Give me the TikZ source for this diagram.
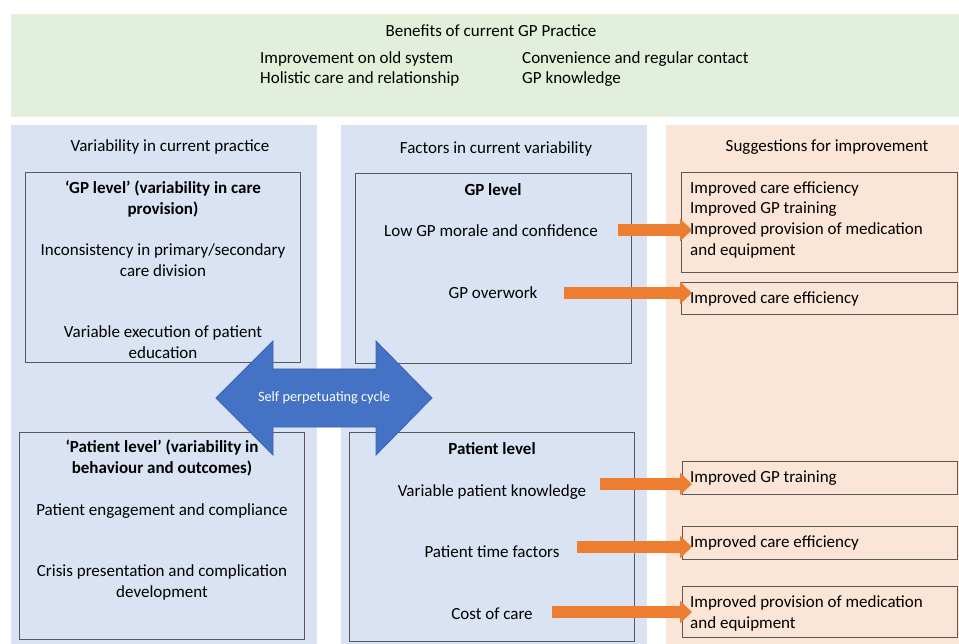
\documentclass[tikz,border=0pt]{standalone}
\usepackage{fontspec}
\setmainfont{Carlito}
\usetikzlibrary{arrows.meta,calc}
\definecolor{cgreen}{HTML}{E2EFDA}
\definecolor{cblue}{HTML}{DAE3F3}
\definecolor{corange}{HTML}{FBE5D6}
\definecolor{cborder}{HTML}{595959}
\definecolor{carrow}{HTML}{ED7D31}
\definecolor{cbig}{HTML}{4472C4}
\definecolor{cbigline}{HTML}{3A64B0}
\begin{document}
\begin{tikzpicture}[x=1pt,y=-1pt,
  ibox/.style={draw=cborder,line width=0.8pt,fill=none},
  txt/.style={inner sep=0pt,yshift=-1.5pt,font=\fontsize{17}{20.8}\selectfont,align=center,anchor=base},
  ltxt/.style={inner sep=0pt,yshift=-1.5pt,font=\fontsize{17}{20.8}\selectfont,align=left,anchor=base west},
  head/.style={inner sep=0pt,yshift=-1.5pt,font=\fontsize{17}{20}\selectfont,anchor=base},
  bold/.style={txt,font=\fontsize{17}{20.8}\selectfont\bfseries},
  oarr/.style={draw=carrow,line width=12pt,-{Triangle[length=12pt 0 0,width=22pt 0 0,fill=carrow]}}
]
\useasboundingbox (0,0) rectangle (959,644);
% panels
\fill[cgreen] (11,14) rectangle (959,117);
\fill[cblue] (11,125) rectangle (317,644);
\fill[cblue] (341,125) rectangle (647,644);
\fill[corange] (666,125) rectangle (959,644);
% top texts
\node[head] (bt) at (491,35) {Benefits of current GP Practice};
\node[ltxt,font=\fontsize{17}{20}\selectfont] (b1) at (260,82) {Improvement on old system\\Holistic care and relationship};
\node[ltxt,font=\fontsize{17}{20}\selectfont] (b2) at (522,82) {Convenience and regular contact\\GP knowledge};
% headings
\node[head] (h1) at (170,150) {Variability in current practice};
\node[head] (h2) at (496,152) {Factors in current variability};
\node[head] (h3) at (827,150) {Suggestions for improvement};
% left boxes
\node[ibox,minimum width=275pt,minimum height=190pt,anchor=north west] (lgp) at (25,172) {};
\node[bold] (lgpt) at (163,213) {‘GP level’ (variability in care\\provision)};
\node[txt] (lgp1) at (163,275) {Inconsistency in primary/secondary\\care division};
\node[txt] (lgp2) at (163,357) {Variable execution of patient\\education};
\node[ibox,minimum width=285pt,minimum height=207pt,anchor=north west] (lpt) at (19,432) {};
\node[bold] (lptt) at (162,472) {‘Patient level’ (variability in\\behaviour and outcomes)};
\node[txt] (lpt1) at (162,514) {Patient engagement and compliance};
\node[txt] (lpt2) at (162,596) {Crisis presentation and complication\\development};
% middle boxes
\node[ibox,minimum width=276pt,minimum height=190pt,anchor=north west] (mgp) at (355,173) {};
\node[bold] (mgpt) at (493,194) {GP level};
\node[txt] (mgp1) at (491,235) {Low GP morale and confidence};
\node[txt] (mgp2) at (493,297) {GP overwork};
\node[ibox,minimum width=285pt,minimum height=209pt,anchor=north west] (mpt) at (349,432) {};
\node[bold] (mptt) at (492,453) {Patient level};
\node[txt] (mpt1) at (492,495) {Variable patient knowledge};
\node[txt] (mpt2) at (492,556) {Patient time factors};
\node[txt] (mpt3) at (492,618) {Cost of care};
% right boxes
\node[ibox,minimum width=276pt,minimum height=100pt,anchor=north west] (s1) at (681,172) {};
\node[ltxt] (s1t) at (690,254) {Improved care efficiency\\Improved GP training\\Improved provision of medication\\and equipment};
\node[ibox,minimum width=276pt,minimum height=32pt,anchor=north west] (s2) at (681,282) {};
\node[ltxt] (s2t) at (690,302) {Improved care efficiency};
\node[ibox,minimum width=275pt,minimum height=33pt,anchor=north west] (s3) at (682,461) {};
\node[ltxt] (s3t) at (690,481) {Improved GP training};
\node[ibox,minimum width=275pt,minimum height=33pt,anchor=north west] (s4) at (682,526) {};
\node[ltxt] (s4t) at (690,546) {Improved care efficiency};
\node[ibox,minimum width=275pt,minimum height=51pt,anchor=north west] (s5) at (682,586) {};
\node[ltxt] (s5t) at (690,627) {Improved provision of medication\\and equipment};
% orange arrows
\coordinate (e1) at ($(s1.west)+(11,0)$);
\draw[oarr] (618,230) coordinate (a1) -- (a1 -| e1);
\draw[oarr] (564,293) coordinate (a2) -- (a2 -| e1);
\draw[oarr] (600,484) coordinate (a3) -- (a3 -| e1);
\draw[oarr] (577,547) coordinate (a4) -- (a4 -| e1);
\draw[oarr] (552,612) coordinate (a5) -- (a5 -| e1);
% double arrow
\filldraw[fill=cbig,draw=cbigline,line width=0.8pt,line join=miter]
  (216,398) -- (273,341) -- (273,369) -- (376,369) -- (376,341) -- (432,398)
  -- (376,455) -- (376,427) -- (273,427) -- (273,455) -- cycle;
\node[inner sep=0pt,font=\fontsize{14.3}{16}\selectfont,text=white] (cyc) at (324,398) {Self perpetuating cycle};
\end{tikzpicture}
\end{document}
